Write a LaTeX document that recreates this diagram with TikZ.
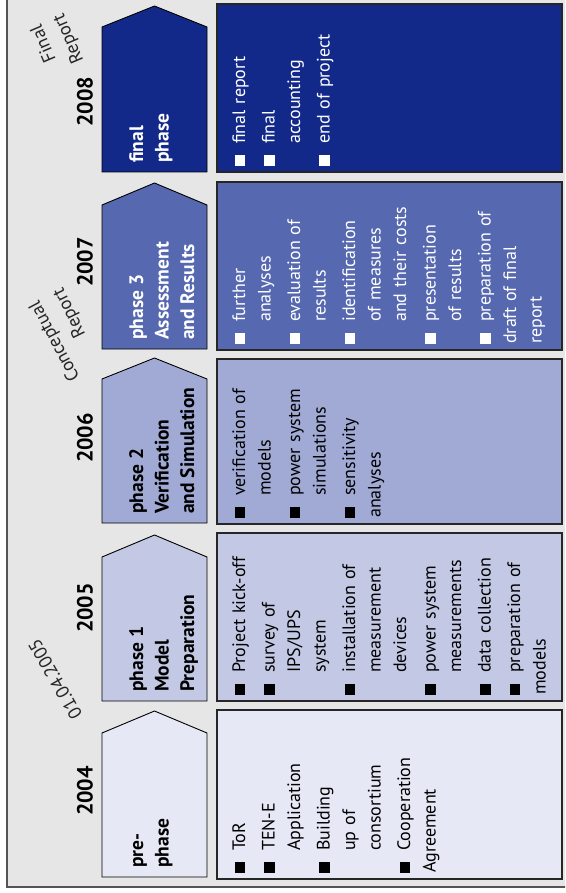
\documentclass[tikz,border=0pt]{standalone}
\usepackage{fontspec}
\setmainfont{PT Sans}
\definecolor{bggray}{HTML}{E6E6E6}
\definecolor{framecol}{HTML}{555555}
\definecolor{cfinal}{HTML}{12298A}
\definecolor{cthree}{HTML}{5568B0}
\definecolor{ctwo}{HTML}{A0AAD4}
\definecolor{cone}{HTML}{C3C9E4}
\definecolor{cpre}{HTML}{E6E9F5}
\newlength\bind \setlength\bind{22pt}
\newcommand\fitm[1]{\noindent\hangindent\bind\hangafter1\rule{0pt}{20pt}\makebox[\bind][l]{\rule{10.5pt}{10.5pt}}#1}
\newcommand\itm[1]{\par\vspace{4pt}\noindent\hangindent\bind\hangafter1\makebox[\bind][l]{\rule{10.5pt}{10.5pt}}#1}
\tikzset{
  shapeline/.style={draw=black, line width=0.9pt, line join=miter},
  boxline/.style={draw=black!85, line width=1.3pt},
  itemtext/.style={rotate=90, anchor=north west, inner sep=0pt,
    font=\fontsize{18}{25.5}\selectfont, align=left},
  phasetext/.style={rotate=90, anchor=north west, inner sep=0pt,
    font=\fontsize{19.5}{25.5}\selectfont\bfseries, align=left},
  yeartext/.style={rotate=90, inner sep=0pt, font=\fontsize{22}{26}\selectfont\bfseries},
  annot/.style={inner sep=0pt, font=\fontsize{18.5}{26}\selectfont, text=black!85}
}
\newcommand\phaseshape[4]{\draw[shapeline, fill=#1] (102,#4) -- (102,#3) -- (154.5,#2) -- (207,#3) -- (207,#4) -- cycle;}
\newcommand\contentbox[3]{\draw[boxline, fill=#1] (217,#2) rectangle (562,#3);}
\begin{document}
\begin{tikzpicture}[x=1pt,y=-1pt]
\useasboundingbox (0,0) rectangle (565,893);
\begin{scope}
\clip (0,0) rectangle (565,893);
\draw[draw=framecol, line width=2pt, fill=bggray] (7,-20) rectangle (590,887);
\end{scope}

% phase shapes
\phaseshape{cfinal}{6}{27}{172}
\phaseshape{cthree}{183}{205}{349}
\phaseshape{ctwo}{358}{379}{523}
\phaseshape{cone}{535}{557}{701}
\phaseshape{cpre}{711}{733}{877}

% content boxes
\contentbox{cfinal}{4}{172}
\contentbox{cthree}{182}{350}
\contentbox{ctwo}{359}{524}
\contentbox{cone}{533}{701}
\contentbox{cpre}{710}{879}

% years
\node[yeartext] (y2008) at (85,102) {2008};
\node[yeartext] (y2007) at (85,262) {2007};
\node[yeartext] (y2006) at (85,438) {2006};
\node[yeartext] (y2005) at (85,608) {2005};
\node[yeartext] (y2004) at (85,791) {2004};

% phase labels
\node[phasetext, text=white] (pfinal) at (123,163) {\rule{0pt}{20pt}final\\phase};
\node[phasetext, text=white] (pthree) at (123,340) {\rule{0pt}{20pt}phase 3\\Assessment\\and Results};
\node[phasetext] (ptwo) at (123,514) {\rule{0pt}{20pt}phase 2\\Verification\\and Simulation};
\node[phasetext] (pone) at (123,692) {\rule{0pt}{20pt}phase 1\\Model\\Preparation};
\node[phasetext] (ppre) at (123,868) {\rule{0pt}{20pt}pre-\\phase};

% contents
\node[itemtext, text=white, text width=156pt] (cfin) at (225,166) {%
\fitm{final report}\itm{final\newline accounting}\itm{end of project}};
\node[itemtext, text=white, text width=156pt] (cthr) at (225,344) {%
\fitm{further\newline analyses}\itm{evaluation of\newline results}\itm{identification\newline of measures\newline and their costs}\itm{presentation\newline of results}\itm{preparation of\newline draft of final\newline report}};
\node[itemtext, text width=153pt] (ctw) at (225,518) {%
\fitm{verification of\newline models}\itm{power system\newline simulations}\itm{sensitivity\newline analyses}};
\node[itemtext, text width=156pt] (con) at (225,695) {%
\fitm{Project kick-off}\itm{survey of\newline IPS/UPS\newline system}\itm{installation of\newline measurement\newline devices}\itm{power system\newline measurements}\itm{data collection}\itm{preparation of\newline models}};
\node[itemtext, text width=157pt] (cpr) at (225,873) {%
\fitm{ToR}\itm{TEN-E\newline Application}\itm{Building\newline up of\newline consortium}\itm{Cooperation\newline Agreement}};

% milestones
\node[annot, rotate=113] (mfinal1) at (42.5,44) {Final};
\node[annot, rotate=113] (mfinal2) at (69,38.5) {Report};
\node[annot, rotate=118] (mconc1) at (55,341) {Conceptual};
\node[annot, rotate=116] (mconc2) at (70,312.5) {Report};
\node[annot, rotate=120] (mdate) at (55,679) {01.04.2005};
\end{tikzpicture}
\end{document}
